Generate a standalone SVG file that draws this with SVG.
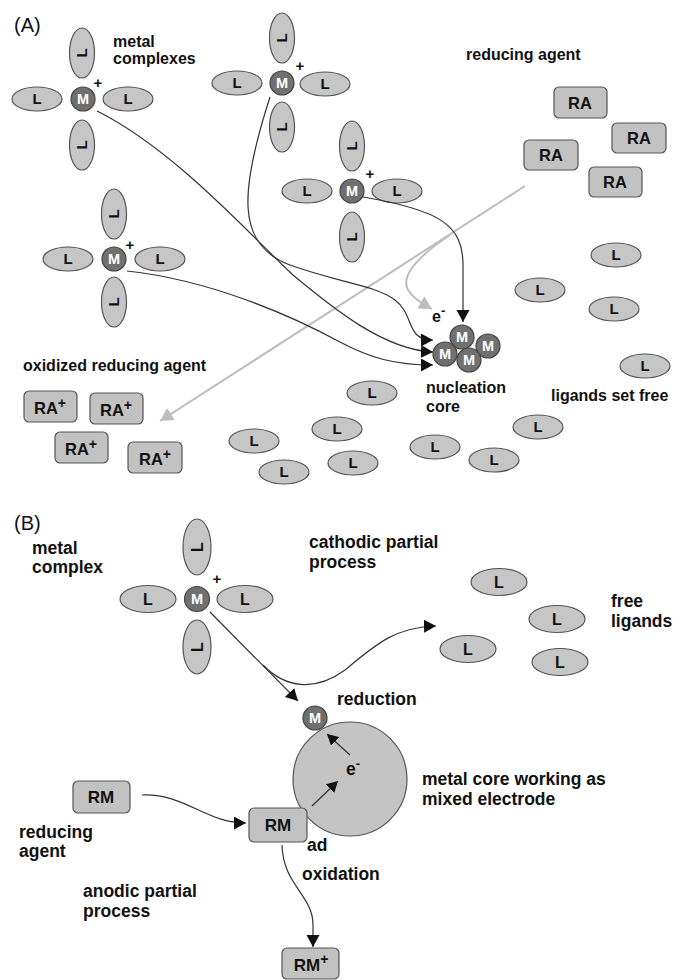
<svg xmlns="http://www.w3.org/2000/svg" width="673" height="980" viewBox="0 0 673 980">
<defs>
<style>
text{font-family:"Liberation Sans",Arial,sans-serif;fill:#111}
.lab{font-size:16px;font-weight:bold}
.labb{font-size:17.5px;font-weight:bold}
.hdr{font-size:20px}
.lig{fill:#c6c6c6;stroke:#555;stroke-width:1.2}
.lt{font-size:15px;font-weight:bold;text-anchor:middle}
.ltb{font-size:16px;font-weight:bold;text-anchor:middle}
.met{fill:#707070;stroke:#444;stroke-width:1.2}
.mt{font-size:14.5px;font-weight:bold;fill:#fff;text-anchor:middle}
.box{fill:#c2c2c2;stroke:#555;stroke-width:1.2}
.bt{font-size:16.5px;font-weight:bold;text-anchor:middle}
.btb{font-size:17px;font-weight:bold;text-anchor:middle}
.pl{font-size:15px;font-weight:bold;text-anchor:middle}
.con{fill:none;stroke:#333;stroke-width:1.2}
.gcon{fill:none;stroke:#bdbdbd;stroke-width:2}
</style>
<marker id="ah" markerUnits="userSpaceOnUse" markerWidth="14" markerHeight="14" refX="12" refY="6.5" orient="auto"><path d="M0,0 L12,6.5 L0,13 z" fill="#111"/></marker>
<marker id="ahs" markerUnits="userSpaceOnUse" markerWidth="14" markerHeight="14" refX="11" refY="6" orient="auto"><path d="M0,0 L11,6 L0,12 z" fill="#111"/></marker>
<marker id="ahg" markerUnits="userSpaceOnUse" markerWidth="16" markerHeight="16" refX="13" refY="7" orient="auto"><path d="M0,0 L13,7 L0,14 z" fill="#bdbdbd"/></marker>
</defs>
<rect width="673" height="980" fill="#fff"/>

<!-- labels -->
<g id="labels">
<text class="hdr" x="14" y="32">(A)</text>
<text class="lab" x="113" y="47">metal</text>
<text class="lab" x="113" y="64">complexes</text>
<text class="lab" x="466" y="60">reducing agent</text>
<text class="lab" x="23" y="371">oxidized reducing agent</text>
<text class="lab" x="426" y="393">nucleation</text>
<text class="lab" x="426" y="412">core</text>
<text class="lab" x="551" y="401">ligands set free</text>
<text class="lab" x="432" y="322">e<tspan font-size="13" dy="-7">-</tspan></text>
<text class="hdr" x="14" y="530">(B)</text>
<text class="labb" x="32" y="554">metal</text>
<text class="labb" x="32" y="573">complex</text>
<text class="labb" x="309" y="548">cathodic partial</text>
<text class="labb" x="309" y="568">process</text>
<text class="labb" x="611" y="607">free</text>
<text class="labb" x="611" y="627">ligands</text>
<text class="labb" x="337" y="705">reduction</text>
<text class="labb" x="422" y="785">metal core working as</text>
<text class="labb" x="422" y="805">mixed electrode</text>
<text class="labb" x="19" y="838">reducing</text>
<text class="labb" x="19" y="857">agent</text>
<text class="labb" x="307" y="851">ad</text>
<text class="labb" x="83" y="897">anodic partial</text>
<text class="labb" x="83" y="917">process</text>
<text class="labb" x="302" y="880">oxidation</text>
</g>

<!-- complex 1 -->
<g id="complex1">
<ellipse class="lig" cx="37" cy="99" rx="25" ry="12"/><text class="lt" x="37" y="104">L</text>
<ellipse class="lig" cx="128" cy="99" rx="25" ry="12"/><text class="lt" x="128" y="104">L</text>
<ellipse class="lig" cx="82" cy="53" rx="12.5" ry="25"/><text class="lt" transform="translate(82,53) rotate(-90)" y="5">L</text>
<ellipse class="lig" cx="82" cy="145" rx="12.5" ry="25"/><text class="lt" transform="translate(82,145) rotate(-90)" y="5">L</text>
<circle class="met" cx="83" cy="99" r="12"/><text class="mt" x="83" y="104">M</text>
<text class="pl" x="98" y="88">+</text>
</g>
<!-- complex 2 -->
<g id="complex2">
<ellipse class="lig" cx="237" cy="83" rx="25" ry="12"/><text class="lt" x="237" y="88">L</text>
<ellipse class="lig" cx="325" cy="84" rx="25" ry="12"/><text class="lt" x="325" y="89">L</text>
<ellipse class="lig" cx="282" cy="38" rx="12.5" ry="25"/><text class="lt" transform="translate(282,38) rotate(-90)" y="5">L</text>
<ellipse class="lig" cx="282" cy="127" rx="12.5" ry="25"/><text class="lt" transform="translate(282,127) rotate(-90)" y="5">L</text>
<circle class="met" cx="282" cy="83" r="12"/><text class="mt" x="282" y="88">M</text>
<text class="pl" x="300" y="71">+</text>
</g>
<!-- complex 3 -->
<g id="complex3">
<ellipse class="lig" cx="307" cy="191" rx="25" ry="12"/><text class="lt" x="307" y="196">L</text>
<ellipse class="lig" cx="397" cy="191" rx="25" ry="12"/><text class="lt" x="397" y="196">L</text>
<ellipse class="lig" cx="352" cy="146" rx="12.5" ry="25"/><text class="lt" transform="translate(352,146) rotate(-90)" y="5">L</text>
<ellipse class="lig" cx="352" cy="237" rx="12.5" ry="25"/><text class="lt" transform="translate(352,237) rotate(-90)" y="5">L</text>
<circle class="met" cx="352" cy="191" r="12"/><text class="mt" x="352" y="196">M</text>
<text class="pl" x="370" y="179">+</text>
</g>
<!-- complex 4 -->
<g id="complex4">
<ellipse class="lig" cx="68" cy="259" rx="25" ry="12"/><text class="lt" x="68" y="264">L</text>
<ellipse class="lig" cx="160" cy="259" rx="25" ry="12"/><text class="lt" x="160" y="264">L</text>
<ellipse class="lig" cx="114" cy="214" rx="12.5" ry="25"/><text class="lt" transform="translate(114,214) rotate(-90)" y="5">L</text>
<ellipse class="lig" cx="114" cy="302" rx="12.5" ry="25"/><text class="lt" transform="translate(114,302) rotate(-90)" y="5">L</text>
<circle class="met" cx="114" cy="259" r="12"/><text class="mt" x="114" y="264">M</text>
<text class="pl" x="130" y="250">+</text>
</g>

<!-- reducing agents -->
<g id="ra1"><rect class="box" x="554" y="87" width="53" height="31" rx="5"/><text class="bt" x="580" y="109">RA</text></g>
<g id="ra2"><rect class="box" x="612" y="123" width="54" height="30" rx="5"/><text class="bt" x="639" y="144">RA</text></g>
<g id="ra3"><rect class="box" x="524" y="140" width="54" height="30" rx="5"/><text class="bt" x="551" y="161">RA</text></g>
<g id="ra4"><rect class="box" x="589" y="167" width="53" height="30" rx="5"/><text class="bt" x="615" y="188">RA</text></g>

<!-- oxidized -->
<g id="rap1"><rect class="box" x="24" y="391" width="53" height="31" rx="5"/><text class="bt" x="50" y="414">RA<tspan font-size="14" dy="-6">+</tspan></text></g>
<g id="rap2"><rect class="box" x="90" y="393" width="53" height="31" rx="5"/><text class="bt" x="116" y="416">RA<tspan font-size="14" dy="-6">+</tspan></text></g>
<g id="rap3"><rect class="box" x="55" y="432" width="53" height="31" rx="5"/><text class="bt" x="81" y="455">RA<tspan font-size="14" dy="-6">+</tspan></text></g>
<g id="rap4"><rect class="box" x="128" y="442" width="54" height="31" rx="5"/><text class="bt" x="155" y="465">RA<tspan font-size="14" dy="-6">+</tspan></text></g>

<!-- nucleation core -->
<g id="nucleus">
<circle class="met" cx="462" cy="337" r="12"/><text class="mt" x="462" y="342">M</text>
<circle class="met" cx="488" cy="346" r="12"/><text class="mt" x="488" y="351">M</text>
<circle class="met" cx="445" cy="354" r="12"/><text class="mt" x="445" y="359">M</text>
<circle class="met" cx="469" cy="360" r="12"/><text class="mt" x="469" y="365">M</text>
</g>

<!-- free ligands A -->
<g id="freeA">
<ellipse class="lig" cx="616" cy="255" rx="25" ry="12"/><text class="lt" x="616" y="260">L</text>
<ellipse class="lig" cx="540" cy="290" rx="25" ry="12"/><text class="lt" x="540" y="295">L</text>
<ellipse class="lig" cx="614" cy="309" rx="25" ry="12"/><text class="lt" x="614" y="314">L</text>
<ellipse class="lig" cx="645" cy="366" rx="25" ry="12"/><text class="lt" x="645" y="371">L</text>
<ellipse class="lig" cx="372" cy="393" rx="25" ry="12"/><text class="lt" x="372" y="398">L</text>
<ellipse class="lig" cx="337" cy="429" rx="25" ry="12"/><text class="lt" x="337" y="434">L</text>
<ellipse class="lig" cx="353" cy="463" rx="25" ry="12"/><text class="lt" x="353" y="468">L</text>
<ellipse class="lig" cx="254" cy="441" rx="25" ry="12"/><text class="lt" x="254" y="446">L</text>
<ellipse class="lig" cx="284" cy="472" rx="25" ry="12"/><text class="lt" x="284" y="477">L</text>
<ellipse class="lig" cx="435" cy="447" rx="25" ry="12"/><text class="lt" x="435" y="452">L</text>
<ellipse class="lig" cx="494" cy="460" rx="25" ry="12"/><text class="lt" x="494" y="465">L</text>
<ellipse class="lig" cx="538" cy="427" rx="25" ry="12"/><text class="lt" x="538" y="432">L</text>
</g>

<!-- complex 5 (B) -->
<g id="complex5">
<ellipse class="lig" cx="148" cy="599" rx="28" ry="13.5"/><text class="ltb" x="148" y="605">L</text>
<ellipse class="lig" cx="245" cy="599" rx="28" ry="13.5"/><text class="ltb" x="245" y="605">L</text>
<ellipse class="lig" cx="197" cy="547" rx="14" ry="28"/><text class="ltb" transform="translate(197,547) rotate(-90)" y="6">L</text>
<ellipse class="lig" cx="197" cy="647" rx="14" ry="27"/><text class="ltb" transform="translate(197,647) rotate(-90)" y="6">L</text>
<circle class="met" cx="197" cy="599" r="12.5"/><text class="mt" x="197" y="604">M</text>
<text class="pl" x="217" y="584">+</text>
</g>

<!-- free ligands B -->
<g id="freeB">
<ellipse class="lig" cx="499" cy="582" rx="28" ry="13.5"/><text class="ltb" x="499" y="588">L</text>
<ellipse class="lig" cx="557" cy="619" rx="28" ry="13.5"/><text class="ltb" x="557" y="625">L</text>
<ellipse class="lig" cx="468" cy="649" rx="28" ry="13.5"/><text class="ltb" x="468" y="655">L</text>
<ellipse class="lig" cx="560" cy="662" rx="28" ry="13.5"/><text class="ltb" x="560" y="668">L</text>
</g>

<!-- metal core -->
<g id="core">
<circle cx="350" cy="779" r="57" fill="#c4c4c4" stroke="#555" stroke-width="1.2"/>
<text class="labb" x="346" y="775">e<tspan font-size="13" dy="-7">-</tspan></text>
</g>
<g id="mred"><circle class="met" cx="315" cy="718" r="12"/><text class="mt" x="315" y="723">M</text></g>

<!-- RM boxes -->
<g id="rm1"><rect class="box" x="73" y="781" width="57" height="32" rx="5"/><text class="btb" x="101" y="803">RM</text></g>
<g id="rm2"><rect class="box" x="249" y="808" width="58" height="34" rx="5"/><text class="btb" x="278" y="831">RM</text></g>
<g id="rmp"><rect class="box" x="282" y="948" width="57" height="31" rx="5"/><text class="btb" x="311" y="971">RM<tspan font-size="14" dy="-7">+</tspan></text></g>

<!-- connectors -->
<g id="connectors">
<path class="gcon" d="M525,186 L160,421" marker-end="url(#ahg)"/>
<path class="gcon" d="M450,235 C420,255 400,275 408,290 C413,298 420,302 432,309" marker-end="url(#ahg)"/>
<path class="con" d="M97,111 C175,150 250,235 293,275 C335,310 385,350 433,352" marker-end="url(#ah)"/>
<path class="con" d="M270,97 C240,190 235,245 290,265 C340,283 375,285 395,300 C415,315 405,340 433,340" marker-end="url(#ah)"/>
<path class="con" d="M127,271 C210,280 290,315 340,342 C370,358 395,365 433,365" marker-end="url(#ah)"/>
<path class="con" d="M363,197 C440,210 463,225 463,265 L463,322" marker-end="url(#ah)"/>
<path class="con" d="M210,612 L298,701" marker-end="url(#ah)"/>
<path class="con" d="M263,665 C285,688 315,692 345,670 C375,645 395,627 436,626" marker-end="url(#ah)"/>
<path class="con" d="M350,755 L327,734" marker-end="url(#ahs)"/>
<path class="con" d="M312,806 L338,781" marker-end="url(#ahs)"/>
<path class="con" d="M142,795 C185,793 205,823 246,823" marker-end="url(#ah)"/>
<path class="con" d="M282,845 C283,885 313,895 313,925 L313,947" marker-end="url(#ah)"/>
</g>
</svg>
